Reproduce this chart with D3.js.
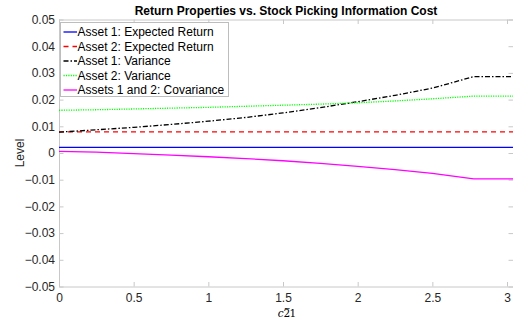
<!DOCTYPE html>
<html>
<head>
<meta charset="utf-8">
<script src="https://cdn.jsdelivr.net/npm/d3@7/dist/d3.min.js"></script>
<style>
  html, body { margin: 0; padding: 0; background: #fff; }
  svg { display: block; }
</style>
</head>
<body>
<svg id="chart" width="513" height="322"></svg>
<script>
// Stock picking information cost (x) and the resulting return moments
const xValues     = [0, 0.25, 0.5, 0.75, 1.0, 1.25, 1.5, 1.75, 2.0, 2.25, 2.5, 2.777, 3.04];
const expRet1     = [0.0021, 0.0021, 0.0021, 0.0021, 0.0021, 0.0021, 0.0021, 0.0021, 0.0021, 0.0021, 0.0021, 0.0021, 0.0021];
const expRet2     = [0.0079, 0.0079, 0.0079, 0.0079, 0.0079, 0.0079, 0.0079, 0.0079, 0.0079, 0.0079, 0.0079, 0.0079, 0.0079];
const variance1   = [0.0078, 0.0087, 0.0096, 0.0107, 0.0119, 0.0133, 0.0150, 0.0170, 0.0192, 0.0216, 0.0243, 0.0286, 0.0286];
const variance2   = [0.0160, 0.0162, 0.0165, 0.0168, 0.0171, 0.0175, 0.0179, 0.0183, 0.0188, 0.0195, 0.0203, 0.0213, 0.0213];
const covariance  = [0.0006, 0.0003, -0.0002, -0.0008, -0.0014, -0.0021, -0.0029, -0.0039, -0.0050, -0.0062, -0.0076, -0.0097, -0.0097];

const seriesNames = ["Asset 1: Expected Return", "Asset 2: Expected Return", "Asset 1: Variance", "Asset 2: Variance", "Assets 1 and 2: Covariance"];
const xTicks = [0, 0.5, 1, 1.5, 2, 2.5, 3];
const yTicks = [-0.05, -0.04, -0.03, -0.02, -0.01, 0, 0.01, 0.02, 0.03, 0.04, 0.05];
const titleText = "Return Properties vs. Stock Picking Information Cost";
const yLabel = "Level";

const series = [
  { name: seriesNames[0], values: expRet1,    color: "#0000ff", dash: null },
  { name: seriesNames[1], values: expRet2,    color: "#ff0000", dash: "5,4" },
  { name: seriesNames[2], values: variance1,  color: "#000000", dash: "5,2,1.5,2" },
  { name: seriesNames[3], values: variance2,  color: "#00ff00", dash: "1.2,1.2" },
  { name: seriesNames[4], values: covariance, color: "#ff00ff", dash: null }
];

const svg = d3.select("#chart");
const margin = { left: 59, right: 513, top: 19.5, bottom: 286.5 };
const font = "'Liberation Sans', Arial, Helvetica, sans-serif";
const textColor = "#262626";
const axisColor = "#c8c8c8";

const x = d3.scaleLinear().domain([0, 3.04]).range([margin.left, margin.right]);
const y = d3.scaleLinear().domain([-0.05, 0.05]).range([margin.bottom, margin.top]);

// axes box (bottom & left with labels, top & right ticks only)
const fmt = d => d === 0 ? "0" : d3.format("")(+d.toFixed(2));
const tickLen = 4.5;

const gx = svg.append("g").attr("transform", `translate(0,${margin.bottom})`)
  .call(d3.axisBottom(x).tickValues(xTicks).tickFormat(fmt).tickSizeInner(-tickLen).tickSizeOuter(0).tickPadding(7));
const gy = svg.append("g").attr("transform", `translate(${margin.left},0)`)
  .call(d3.axisLeft(y).tickValues(yTicks).tickFormat(fmt).tickSizeInner(-tickLen).tickSizeOuter(0).tickPadding(4));
const gxt = svg.append("g").attr("transform", `translate(0,${margin.top})`)
  .call(d3.axisTop(x).tickValues(xTicks).tickFormat("").tickSizeInner(-tickLen).tickSizeOuter(0));
const gyr = svg.append("g").attr("transform", `translate(${margin.right},0)`)
  .call(d3.axisRight(y).tickValues(yTicks).tickFormat("").tickSizeInner(-tickLen).tickSizeOuter(0));

[gx, gy, gxt, gyr].forEach(g => {
  g.select(".domain").attr("stroke", axisColor).attr("stroke-width", 1);
  g.selectAll(".tick line").attr("stroke", axisColor).attr("stroke-width", 1);
  g.selectAll(".tick text").attr("fill", textColor).style("font-family", font).style("font-size", "12px");
});

// series lines
const line = d3.line().x((d, i) => x(xValues[i])).y(d => y(d));
svg.append("g").selectAll("path").data(series).join("path")
  .attr("d", d => line(d.values))
  .attr("fill", "none")
  .attr("stroke", d => d.color)
  .attr("stroke-width", 1.3)
  .attr("stroke-dasharray", d => d.dash);

// title
svg.append("text")
  .attr("x", (margin.left + margin.right) / 2).attr("y", 15)
  .attr("text-anchor", "middle")
  .attr("fill", "#000")
  .style("font-family", font).style("font-size", "12px").style("font-weight", "bold")
  .text(titleText);

// y label
svg.append("text")
  .attr("transform", `translate(24,${(margin.top + margin.bottom) / 2}) rotate(-90)`)
  .attr("text-anchor", "middle")
  .attr("fill", textColor)
  .style("font-family", font).style("font-size", "12px")
  .text(yLabel);

// x label: italic c, then 2 carrying a tilde, then 1 (one text element)
const serif = "'DejaVu Serif', 'Liberation Serif', serif";
const xl = svg.append("text")
  .attr("x", (margin.left + margin.right) / 2 - 2).attr("y", 316.5)
  .attr("fill", "#000")
  .style("font-family", serif).style("font-size", "10.5px");
xl.append("tspan").style("font-style", "italic").text("c");
xl.append("tspan").text("2");
xl.append("tspan").attr("dx", -6.4).attr("dy", -5.2)
  .style("font-family", "'DejaVu Sans', sans-serif").style("font-size", "7.5px").style("font-weight", "bold")
  .text("~");
xl.append("tspan").attr("dx", -0.6).attr("dy", 5.2).text("1");
// center the composed label on the axis
const bb = xl.node().getBBox();
xl.attr("x", (margin.left + margin.right) / 2 - bb.width / 2 + 1);

// legend
const lg = svg.append("g").attr("transform", "translate(60.5,22.5)");
lg.append("rect").attr("width", 168).attr("height", 74)
  .attr("fill", "#fff").attr("stroke", "#bdbdbd").attr("stroke-width", 1);
const rows = lg.selectAll("g.row").data(series).join("g")
  .attr("class", "row")
  .attr("transform", (d, i) => `translate(0,${9.5 + i * 14.5})`);
rows.append("line").attr("x1", 3).attr("x2", 16.5).attr("y1", 0).attr("y2", 0)
  .attr("stroke", d => d.color).attr("stroke-width", 1.3)
  .attr("stroke-dasharray", d => d.dash);
rows.append("text").attr("x", 17).attr("y", 4.3)
  .attr("fill", "#000")
  .style("font-family", font).style("font-size", "12px")
  .text(d => d.name);
</script>
</body>
</html>
